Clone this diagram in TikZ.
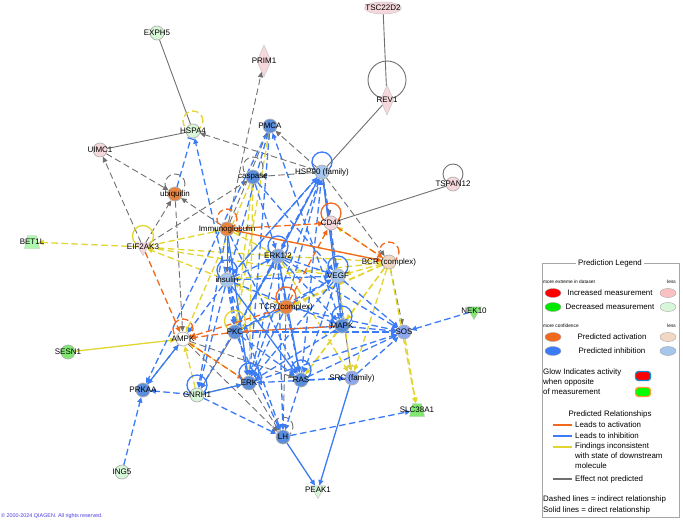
\documentclass[tikz,border=0pt]{standalone}
\usepackage{fontspec}
\setmainfont{Liberation Sans}
\usetikzlibrary{arrows.meta, calc, shapes.geometric, backgrounds}

%% colores de nodos
\definecolor{cUp}{HTML}{F6D8DC}
\definecolor{cDnL}{HTML}{D8F6D8}
\definecolor{cDn}{HTML}{80E870}
\definecolor{cInh}{HTML}{5A8EDC}
\definecolor{cInhL}{HTML}{A6C6EE}
\definecolor{cAct}{HTML}{E8843F}
\definecolor{cActL}{HTML}{F2D8C4}
%% colores de lineas
\definecolor{eAct}{HTML}{F2691E}
\definecolor{eInh}{HTML}{3B7BF6}
\definecolor{eInc}{HTML}{E2D530}
\definecolor{eNp}{HTML}{707070}
\definecolor{qiagen}{HTML}{4A3AE0}

\begin{document}
\begin{tikzpicture}[x=1pt, y=-1pt,
  mol/.style={circle, minimum size=14pt, inner sep=0pt, draw=gray!60, line width=0.7pt},
  trap/.style={trapezium, trapezium left angle=70, trapezium right angle=70,
               trapezium stretches=true, minimum width=15pt, minimum height=13pt,
               inner sep=1.5pt, draw=gray!50},
  lbl/.style={font=\fontsize{8}{9}\selectfont, text=black},
  actline/.style={draw=eAct, line width=1.3pt},
  inhline/.style={draw=eInh, line width=1.3pt},
  incline/.style={draw=eInc, line width=1.3pt},
  npline/.style={draw=eNp, line width=0.9pt},
  indir/.style={dash pattern=on 6.5pt off 3.5pt},
  arr/.style={-{Triangle[length=5.5pt,width=5pt]}},
  blk/.style={-{Bar[width=7pt]}},
  legtxt/.style={font=\fontsize{7.9}{9}\selectfont},
  legsmall/.style={font=\fontsize{4.8}{5}\selectfont},
  legdot/.style={ellipse, minimum width=16pt, minimum height=9pt, inner sep=0pt, draw=gray!70, line width=0.4pt}]
\useasboundingbox (0,0) rectangle (683,522);

%% Nodos %%%%%%%%%%%%%%%%%%%%%%%%%%%%%%%%%%%%%%%%%%%%%%%%%%%
\node[mol, fill=cDnL, label={[lbl]center:EXPH5}] (exph) at (157,33) {};
\node[diamond, minimum width=14pt, minimum height=32pt, inner sep=0pt, fill=cUp, draw=gray!50,
      label={[lbl]center:PRIM1}] (prim) at (264,61) {};
\node[ellipse, minimum width=37pt, minimum height=12pt, inner sep=0pt, fill=cUp, draw=gray!50,
      label={[lbl]center:TSC22D2}] (tsc) at (383,8) {};
\node[diamond, minimum width=13pt, minimum height=30pt, inner sep=0pt, fill=cUp, draw=gray!50,
      label={[lbl]center:REV1}] (rev) at (387,100) {};
\node[mol, fill=cDnL, label={[lbl]center:HSPA4}] (hspa) at (193,131) {};
\node[mol, fill=cInh, label={[lbl]center:PMCA}] (pmca) at (270,126) {};
\node[mol, fill=cUp, label={[lbl]center:UIMC1}] (uimc) at (100,150) {};
\node[mol, fill=cAct, label={[lbl]center:ubiquitin}] (ubq) at (175,194) {};
\node[mol, fill=cInh, label={[lbl]center:caspase}] (casp) at (253,177) {};
\node[mol, fill=cInhL, label={[lbl]center:HSP90 (family)}] (hsp) at (322,172) {};
\node[mol, fill=cUp, label={[lbl]center:TSPAN12}] (tspan) at (453,184) {};
\node[trap, fill=cDnL!80!green, label={[lbl]center:BET1L}] (bet) at (32,242) {};
\node[regular polygon, regular polygon sides=3, shape border rotate=180, minimum size=17pt,
      inner sep=0pt, fill=cUp, draw=gray!50, label={[lbl]center:EIF2AK3}] (eif) at (143,247) {};
\node[mol, fill=cAct, label={[lbl]center:Immunoglobulin}] (igg) at (227,229) {};
\node[mol, fill=cUp, label={[lbl]center:CD44}] (cd) at (331,223) {};
\node[mol, fill=cInh!75!white, label={[lbl]center:ERK1/2}] (erk12) at (278,256) {};
\node[mol, fill=cActL, label={[lbl]center:BCR (complex)}] (bcr) at (389,262) {};
\node[mol, fill=cInhL, label={[lbl]center:insulin}] (ins) at (227,280) {};
\node[mol, fill=cInhL, label={[lbl]center:VEGF}] (vegf) at (338,276) {};
\node[mol, fill=cAct, label={[lbl]center:TCR (complex)}] (tcr) at (286,307) {};
\node[regular polygon, regular polygon sides=3, shape border rotate=180, minimum size=17pt,
      inner sep=0pt, fill=cDn, draw=gray!50, label={[lbl]center:NEK10}] (nek) at (474,311) {};
\node[mol, fill=white, label={[lbl]center:AMPK}] (ampk) at (183,339) {};
\node[mol, fill=cInh, label={[lbl]center:PKC}] (pkc) at (235,332) {};
\node[mol, fill=cInh, label={[lbl]center:MAPK}] (mapk) at (342,326) {};
\node[mol, fill=cInhL!85!blue, label={[lbl]center:SOS}] (sos) at (404,332) {};
\node[mol, fill=cDn, label={[lbl]center:SESN1}] (sesn) at (68,352) {};
\node[mol, fill=cInh, label={[lbl]center:PRKAA}] (prkaa) at (143,390) {};
\node[mol, fill=cDnL, label={[lbl]center:GNRH1}] (gnrh) at (197,395) {};
\node[mol, fill=cInh, label={[lbl]center:ERK}] (erk) at (249,383) {};
\node[mol, fill=cInh, label={[lbl]center:RAS}] (ras) at (301,380) {};
\node[mol, fill=cInhL!85!blue, label={[lbl]center:SRC (family)}] (src) at (352,378) {};
\node[trap, fill=cDn, label={[lbl]center:SLC38A1}] (slc) at (417,410) {};
\node[mol, fill=cInh, label={[lbl]center:LH}] (lh) at (283,437) {};
\node[mol, fill=cDnL, label={[lbl]center:ING5}] (ing) at (122,472) {};
\node[regular polygon, regular polygon sides=3, shape border rotate=180, minimum size=17pt,
      inner sep=0pt, fill=cDnL, draw=gray!50, label={[lbl]center:PEAK1}] (peak) at (318,490) {};

%% Relaciones (al fondo) %%%%%%%%%%%%%%%%%%%%%%%%%%%%%%%%%%%
\begin{scope}[on background layer]
%% gris, directa
\foreach \a/\b in {exph/hspa, uimc/hspa, tsc/rev, rev/hsp, tspan/cd}
  \draw[npline] (\a) -- (\b);
\foreach \a/\b in {igg/ins, pkc/gnrh, hsp/src}
  \draw[npline, arr] (\a) -- (\b);
%% gris, indirecta
\foreach \a/\b in {igg/prim, hsp/hspa, hsp/pmca, hsp/casp, uimc/ubq, eif/uimc, eif/ubq,
                   eif/casp, igg/ubq, ubq/ampk, bcr/sos, hsp/bcr, ampk/ras, erk/lh,
                   hsp/cd, igg/pmca, tcr/lh, ampk/lh}
  \draw[npline, indir, arr] (\a) -- (\b);
%% amarillo
\foreach \a/\b in {eif/bet, eif/igg, eif/erk12, eif/vegf, ins/eif, bcr/igg, bcr/ins,
                   bcr/erk12, bcr/pkc, bcr/mapk, bcr/ras, bcr/src, bcr/tcr, bcr/cd,
                   pkc/pmca, casp/pkc, casp/ampk, prkaa/ampk, erk/ampk, gnrh/ampk,
                   sos/slc, bcr/slc, vegf/src, tcr/ins, igg/erk12, casp/erk, erk12/src,
                   mapk/ras, gnrh/erk, bcr/vegf}
  \draw[incline, indir, arr] (\a) -- (\b);
\draw[incline, arr] (sesn) -- (ampk);
%% azul
\draw[inhline, indir, blk] (ubq) -- (hspa);
\foreach \a/\b in {ins/hspa, mapk/pmca, ins/hsp, erk12/hsp, pkc/hsp, erk/hsp, ras/hsp,
                   tcr/hsp, ins/erk12, ins/pkc, ins/erk, ins/ampk, ins/lh, ins/mapk,
                   ins/vegf, erk12/vegf, erk12/mapk, erk12/erk, pkc/erk12, vegf/mapk,
                   vegf/erk, vegf/sos, tcr/erk12, tcr/ras, tcr/erk, tcr/pkc, tcr/vegf,
                   pkc/mapk, pkc/ras, pkc/vegf, pkc/sos, mapk/sos, ras/src, ras/sos,
                   ras/lh, src/sos, src/erk, gnrh/lh, gnrh/prkaa, ampk/prkaa, ing/prkaa,
                   lh/slc, nek/sos, igg/pkc, igg/ras, casp/erk12, casp/vegf, pmca/ins,
                   pmca/prkaa, erk12/lh, vegf/ras, mapk/erk, hsp/vegf, hsp/erk12,
                   igg/gnrh, pkc/lh, erk/sos, erk12/sos, tcr/sos, ins/gnrh, erk12/gnrh,
                   prkaa/ampk, pmca/erk, hsp/ins}
  \draw[inhline, indir, arr] (\a) -- (\b);
\foreach \a/\b in {src/peak, lh/peak, gnrh/erk, hsp/mapk, igg/erk, ins/ras, erk12/ras}
  \draw[inhline, arr] (\a) -- (\b);
%% naranja
\foreach \a/\b in {eif/ampk, igg/cd, cd/bcr, tcr/cd, tcr/ampk, pkc/ampk, mapk/pkc, ampk/erk}
  \draw[actline, indir, arr] (\a) -- (\b);
\draw[actline, arr] (igg) -- (bcr);

%% bucles sobre si mismos
\draw[npline] ([yshift=20pt]rev.center) circle[radius=19pt];
\foreach \n in {tspan}
  \draw[npline] ([yshift=10pt]\n.center) circle[radius=10pt];
\foreach \n in {ubq, casp, lh}
  \draw[npline, indir] ([yshift=10pt]\n.center) circle[radius=10pt];
\foreach \n in {hspa}
  \draw[incline, indir] ([yshift=10pt]\n.center) circle[radius=10pt];
\foreach \n in {eif, pkc}
  \draw[incline] ([yshift=11pt]\n.center) circle[radius=10.5pt];
\foreach \n in {hsp, erk12, ins, vegf, mapk, gnrh, erk, ras}
  \draw[inhline] ([yshift=10pt]\n.center) circle[radius=10pt];
\foreach \n in {igg, ampk, bcr}
  \draw[actline, indir] ([yshift=10pt]\n.center) circle[radius=10pt];
\foreach \n in {cd, tcr}
  \draw[actline] ([yshift=10pt]\n.center) circle[radius=10pt];
\end{scope}

%% copyright
\node[anchor=west, inner sep=0pt, text=qiagen, font=\fontsize{5.4}{6}\selectfont]
  (copy) at (1,516) {\textcopyright{} 2000-2024 QIAGEN. All rights reserved.};

%% Leyenda %%%%%%%%%%%%%%%%%%%%%%%%%%%%%%%%%%%%%%%%%%%%%%%%%
\draw[gray!70, line width=0.6pt] (542,263) rectangle (679,517);
\node[legtxt, fill=white, inner sep=2pt] (legtitle) at (610,263) {Prediction Legend};
\node[legsmall, anchor=west, inner sep=0pt] (more1) at (543,282) {more extreme in dataset};
\node[legsmall, anchor=east, inner sep=0pt] (less1) at (676,282) {less};
\node[legdot, fill=red] (dUp) at (553,293) {};
\node[legtxt] (tUp) at (610,293) {Increased measurement};
\node[legdot, fill=cUp!70!red!60] (dUpL) at (668,293) {};
\node[legdot, fill=green!85!black!60!green] (dDn) at (553,307) {};
\node[legtxt] (tDn) at (610,307) {Decreased measurement};
\node[legdot, fill=cDnL] (dDnL) at (668,307) {};
\node[legsmall, anchor=west, inner sep=0pt] (more2) at (543,326) {more confidence};
\node[legsmall, anchor=east, inner sep=0pt] (less2) at (676,326) {less};
\node[legdot, fill=eAct] (dAct) at (553,337) {};
\node[legtxt] (tAct) at (612,337) {Predicted activation};
\node[legdot, fill=cActL] (dActL) at (668,337) {};
\node[legdot, fill=eInh] (dInh) at (553,351) {};
\node[legtxt] (tInh) at (612,351) {Predicted inhibition};
\node[legdot, fill=cInhL] (dInhL) at (668,351) {};
\node[legtxt, anchor=west, inner sep=0pt, align=left] (glow) at (543,382)
  {Glow Indicates activity\\[1pt] when opposite\\[1pt] of measurement};
\node[rounded corners=3pt, minimum width=15pt, minimum height=9pt, fill=red,
      draw=cyan!70!blue, line width=1.3pt] (glowR) at (643,376) {};
\node[rounded corners=3pt, minimum width=15pt, minimum height=9pt, fill=green,
      draw=orange!80, line width=1.3pt] (glowG) at (643,392) {};
\node[legtxt] (relt) at (610,414) {Predicted Relationships};
\foreach \yy/\cc/\tt in {425/eAct/Leads to activation, 436/eInh/Leads to inhibition,
                         479/eNp/Effect not predicted} {
  \draw[\cc, line width=1.2pt] (553,\yy) -- (572,\yy);
  \node[legtxt, anchor=west, inner sep=0pt] at (575,\yy) {\tt};
}
\draw[eInc, line width=1.2pt] (553,447) -- (572,447);
\node[legtxt, anchor=north west, inner sep=0pt, align=left] (incon) at (575,443)
  {Findings inconsistent\\[1pt] with state of downstream\\[1pt] molecule};
\node[legtxt, anchor=west, inner sep=0pt] (dash) at (543,499) {Dashed lines = indirect relationship};
\node[legtxt, anchor=west, inner sep=0pt] (solid) at (543,510) {Solid lines = direct relationship};
\end{tikzpicture}
\end{document}
